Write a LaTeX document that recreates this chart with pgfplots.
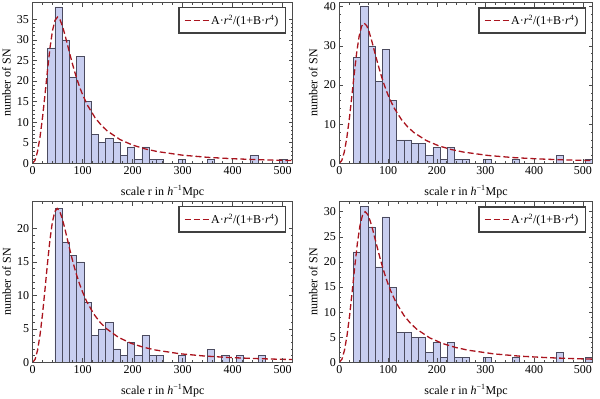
\documentclass[border=0pt]{standalone}
\usepackage{fontspec}
\setmainfont{Liberation Serif}
\usepackage{pgfplots}
\pgfplotsset{compat=1.18}
\definecolor{barfill}{RGB}{200,206,240}
\definecolor{baredge}{RGB}{75,75,95}
\definecolor{fitred}{RGB}{170,20,30}
\pgfplotsset{
  hist/.style={
    scale only axis, xmin=0, xmax=520, ymin=0, axis on top,
    tick align=inside, major tick length=4pt, minor tick length=2pt,
    xtick={0,100,...,500}, minor x tick num=4, minor y tick num=4,
    axis line style={black!70, line width=0.6pt},
    every tick/.style={black!70, line width=0.5pt},
    tick label style={font=\fontsize{12}{14}\selectfont},
    label style={font=\fontsize{12}{14}\selectfont},
    /pgf/number format/assume math mode=true,
    xlabel={scale r in \textit{h}\textsuperscript{−1}Mpc},
    ylabel={number of SN},
    xlabel style={at={(axis description cs:0.5,-0.177)}, anchor=center},
    legend style={at={(1,1)}, anchor=north east, xshift=-6.7pt, yshift=-4.6pt,
      draw=black!75, line width=1.2pt, font=\fontsize{12}{14}\selectfont,
      inner xsep=5pt, inner ysep=5pt},
    legend image code/.code={\draw[#1] (0pt,0pt) -- (24pt,0pt);},
  },
  bars/.style={ybar interval, fill=barfill, draw=baredge, line width=0.5pt, forget plot},
  fit/.style={fitred, line width=1.3pt, mark=none, dash pattern=on 6pt off 3pt},
}
\newcommand{\fitlabel}{A·\textit{r}\textsuperscript{2}/(1+B·\textit{r}\textsuperscript{4})}
\begin{document}
\begin{tikzpicture}
\useasboundingbox (0,0) rectangle (600pt,399pt);
% ---------- panel 1 ----------
\begin{axis}[hist, at={(32.5pt,235.7pt)}, anchor=south west, width=260.2pt, height=160.6pt,
  ymax=39, ytick={0,5,...,35}, ylabel style={at={(axis description cs:-0.1,0.5)}, anchor=center}]
\addplot[bars] coordinates {(30,28) (44.5,38) (59,30) (73.5,21) (88,26) (102.5,15) (117,7) (131.5,5) (146,6) (160.5,5) (175,2) (189.5,4) (204,1) (218.5,4) (233,1) (247.5,1) (262,0)};
\addplot[bars] coordinates {(291,1) (305.5,0)};
\addplot[bars] coordinates {(349,1) (363.5,0)};
\addplot[bars] coordinates {(436,2) (450.5,0)};
\addplot[bars] coordinates {(494,1) (508.5,0)};
\addplot[fit] coordinates {(0,0) (5,0.71) (10,2.84) (15,6.34) (20,11.08) (25,16.71) (30,22.63) (35,28.06) (40,32.24) (45,34.73) (50,35.5) (55,34.86) (60,33.26) (65,31.12) (70,28.74) (75,26.35) (80,24.06) (85,21.94) (90,20.01) (95,18.26) (100,16.71) (110,14.07) (125,11.08) (137.5,9.23) (150,7.79) (175,5.76) (200,4.42) (225,3.50) (250,2.84) (300,1.97) (350,1.45) (400,1.11) (450,0.88) (500,0.71) (550,0.59)};
\addlegendentry{\fitlabel}
\end{axis}
% ---------- panel 2 ----------
\begin{axis}[hist, at={(339.3pt,235.7pt)}, anchor=south west, width=253.4pt, height=160.6pt,
  ymax=41, ytick={0,10,...,40}, ylabel style={at={(axis description cs:-0.1026,0.5)}, anchor=center}]
\addplot[bars] coordinates {(28.7,27) (43.55,40) (58.4,30) (73.25,21) (88.1,29) (102.95,16) (117.8,6) (132.65,6) (147.5,5) (162.35,5) (177.2,2) (192.05,4) (206.9,1) (221.75,4) (236.6,1) (251.45,1) (266.3,0)};
\addplot[bars] coordinates {(296,1) (310.85,0)};
\addplot[bars] coordinates {(355.4,1) (370.25,0)};
\addplot[bars] coordinates {(444.5,2) (459.35,0)};
\addplot[bars] coordinates {(503.9,1) (518.75,0)};
\addplot[fit] coordinates {(0,0) (5.1,0.72) (10.2,2.86) (15.3,6.39) (20.4,11.17) (25.5,16.85) (30.6,22.82) (35.7,28.29) (40.8,32.51) (45.9,35.02) (51,35.8) (56.1,35.16) (61.2,33.54) (66.3,31.38) (71.4,28.99) (76.5,26.57) (81.6,24.27) (86.7,22.12) (91.8,20.18) (96.9,18.42) (102,16.85) (112.2,14.19) (127.5,11.17) (140.25,9.30) (153,7.86) (178.5,5.81) (204,4.46) (229.5,3.53) (255,2.86) (306,1.99) (357,1.46) (408,1.12) (459,0.88) (510,0.72) (561,0.59)};
\addlegendentry{\fitlabel}
\end{axis}
% ---------- panel 3 ----------
\begin{axis}[hist, at={(32.7pt,36.7pt)}, anchor=south west, width=260pt, height=160.6pt,
  ymax=24, ytick={0,5,...,20}, ylabel style={at={(axis description cs:-0.1,0.5)}, anchor=center}]
\addplot[bars] coordinates {(44.5,23) (59,18) (73.5,16) (88,15) (102.5,9) (117,4) (131.5,5) (146,6) (160.5,2) (175,1) (189.5,3) (204,1) (218.5,4) (233,1) (247.5,1) (262,0)};
\addplot[bars] coordinates {(291,1) (305.5,0)};
\addplot[bars] coordinates {(349,2) (363.5,0)};
\addplot[bars] coordinates {(378,1) (392.5,0)};
\addplot[bars] coordinates {(407,1) (421.5,0)};
\addplot[bars] coordinates {(450.5,1) (465,0)};
\addplot[fit] coordinates {(0,0) (4.9,0.46) (9.8,1.84) (14.7,4.11) (19.6,7.18) (24.5,10.82) (29.4,14.66) (34.3,18.18) (39.2,20.89) (44.1,22.50) (49,23) (53.9,22.59) (58.8,21.55) (63.7,20.16) (68.6,18.62) (73.5,17.07) (78.4,15.59) (83.3,14.21) (88.2,12.96) (93.1,11.83) (98,10.82) (107.8,9.11) (122.5,7.18) (134.75,5.98) (147,5.05) (171.5,3.73) (196,2.86) (220.5,2.27) (245,1.84) (294,1.28) (343,0.94) (392,0.72) (441,0.57) (490,0.46) (539,0.38)};
\addlegendentry{\fitlabel}
\end{axis}
% ---------- panel 4 ----------
\begin{axis}[hist, at={(339.3pt,36.7pt)}, anchor=south west, width=253.4pt, height=160.6pt,
  ymax=32, ytick={0,5,...,30}, ylabel style={at={(axis description cs:-0.1026,0.5)}, anchor=center}]
\addplot[bars] coordinates {(28.7,22) (43.55,31) (58.4,27) (73.25,19) (88.1,29) (102.95,15) (117.8,6) (132.65,6) (147.5,5) (162.35,5) (177.2,2) (192.05,4) (206.9,1) (221.75,4) (236.6,1) (251.45,1) (266.3,0)};
\addplot[bars] coordinates {(296,1) (310.85,0)};
\addplot[bars] coordinates {(355.4,1) (370.25,0)};
\addplot[bars] coordinates {(444.5,2) (459.35,0)};
\addplot[bars] coordinates {(503.9,1) (518.75,0)};
\addplot[fit] coordinates {(0,0) (5.3,0.60) (10.6,2.40) (15.9,5.36) (21.2,9.36) (26.5,14.12) (31.8,19.12) (37.1,23.71) (42.4,27.24) (47.7,29.35) (53,30) (58.3,29.46) (63.6,28.11) (68.9,26.30) (74.2,24.29) (79.5,22.27) (84.8,20.33) (90.1,18.54) (95.4,16.91) (100.7,15.44) (106,14.12) (116.6,11.89) (132.5,9.36) (145.75,7.80) (159,6.59) (185.5,4.87) (212,3.74) (238.5,2.96) (265,2.40) (318,1.67) (371,1.22) (424,0.94) (477,0.74) (530,0.60)};
\addlegendentry{\fitlabel}
\end{axis}
\end{tikzpicture}
\end{document}
